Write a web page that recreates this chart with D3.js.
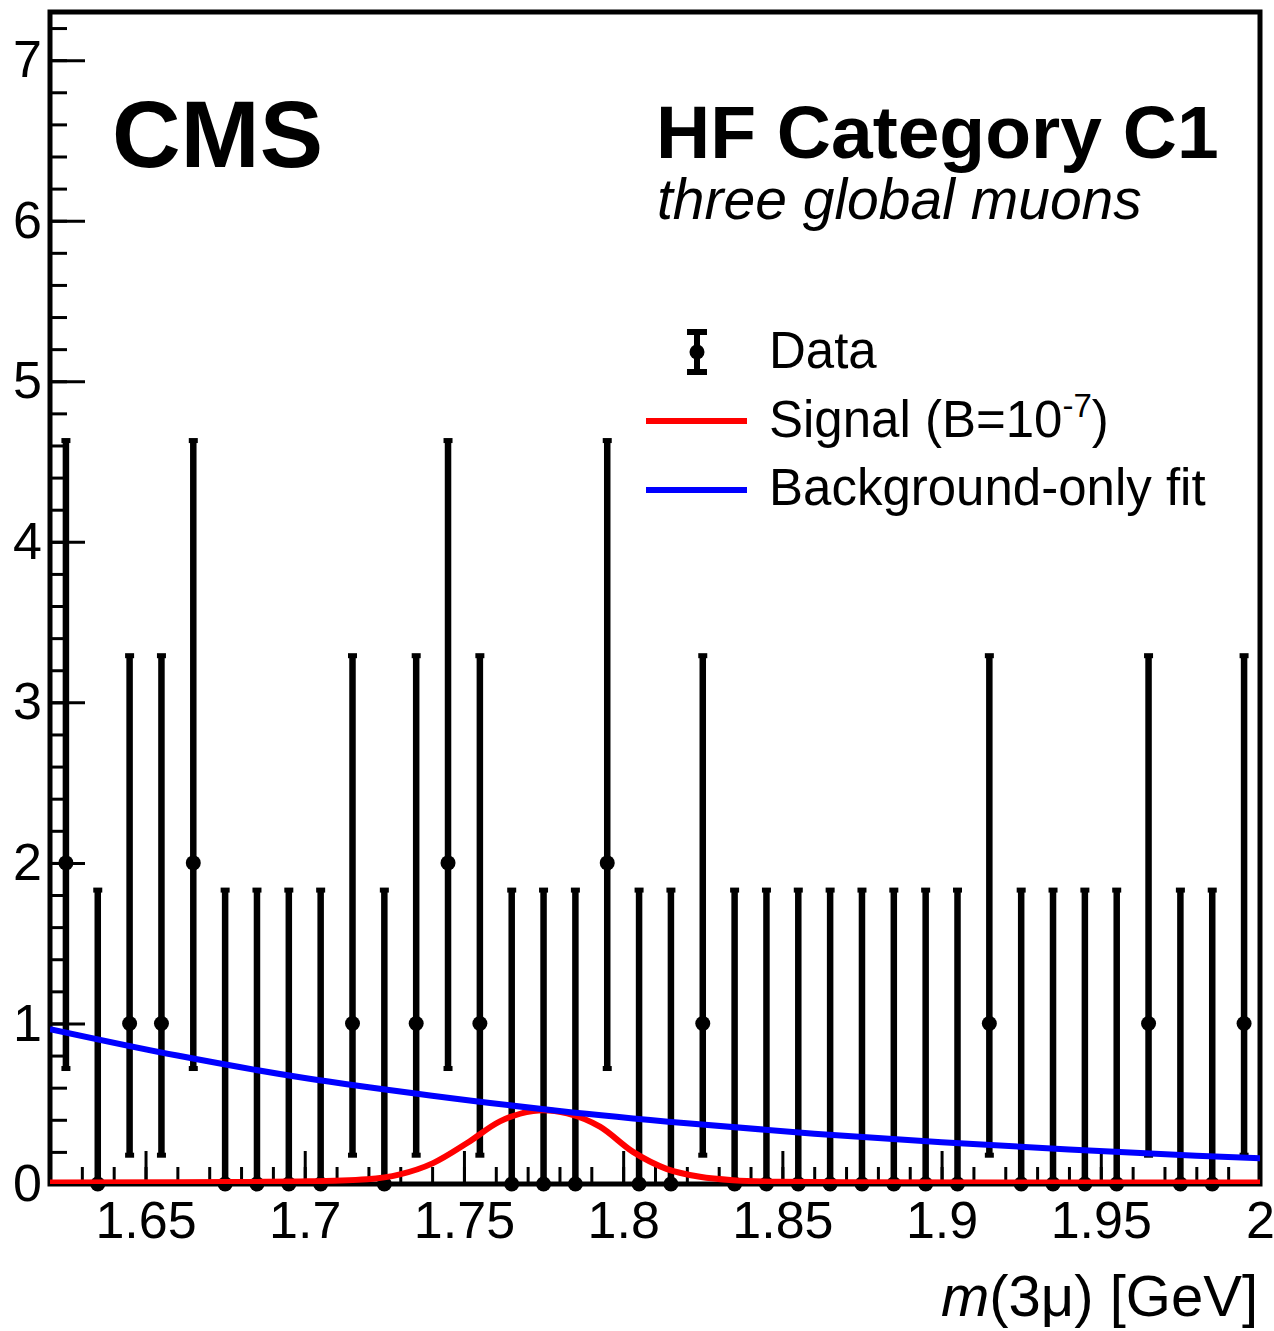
<!DOCTYPE html>
<html>
<head>
<meta charset="utf-8">
<script src="https://cdn.jsdelivr.net/npm/d3@7"></script>
<style>
  body { margin: 0; background: #fff; }
  svg { display: block; font-family: "Liberation Sans", Arial, sans-serif; }
</style>
</head>
<body>
<svg id="chart"></svg>
<script>
// bin centres of m(3mu) histogram [GeV]
let binCenters = [1.625, 1.635, 1.645, 1.655, 1.665, 1.675, 1.685, 1.695, 1.705, 1.715,
  1.725, 1.735, 1.745, 1.755, 1.765, 1.775, 1.785, 1.795, 1.805, 1.815,
  1.825, 1.835, 1.845, 1.855, 1.865, 1.875, 1.885, 1.895, 1.905, 1.915,
  1.925, 1.935, 1.945, 1.955, 1.965, 1.975, 1.985, 1.995]
let counts = [2, 0, 1, 1, 2, 0, 0, 0, 0, 1,
  0, 1, 2, 1, 0, 0, 0, 2, 0, 0,
  1, 0, 0, 0, 0, 0, 0, 0, 0, 1,
  0, 0, 0, 0, 1, 0, 0, 1]
// error bar ends
let errLow = [0.71, 0, 0.17, 0.17, 0.71, 0, 0, 0, 0, 0.17,
  0, 0.17, 0.71, 0.17, 0, 0, 0, 0.71, 0, 0,
  0.17, 0, 0, 0, 0, 0, 0, 0, 0, 0.17,
  0, 0, 0, 0, 0.17, 0, 0, 0.17]
let errHigh = [4.64, 1.84, 3.30, 3.30, 4.64, 1.84, 1.84, 1.84, 1.84, 3.30,
  1.84, 3.30, 4.64, 3.30, 1.84, 1.84, 1.84, 4.64, 1.84, 1.84,
  3.30, 1.84, 1.84, 1.84, 1.84, 1.84, 1.84, 1.84, 1.84, 3.30,
  1.84, 1.84, 1.84, 1.84, 3.30, 1.84, 1.84, 3.30]

// background-only fit
let bkgX = [1.62, 1.66, 1.70, 1.74, 1.78, 1.82, 1.86, 1.90, 1.94, 1.98, 2.00]
let bkgY = [0.965, 0.80, 0.66, 0.55, 0.455, 0.378, 0.313, 0.26, 0.215, 0.176, 0.16]

// signal shape (B=1e-7)
let sigX = [1.62, 1.66, 1.685, 1.6985, 1.7196, 1.7299, 1.7403, 1.751, 1.7613, 1.7717, 1.7748,
  1.7824, 1.7927, 1.8031, 1.8138, 1.8241, 1.8345, 1.8493, 1.87, 1.92, 2.00]
let sigY = [0.01, 0.011, 0.013, 0.016, 0.03, 0.06, 0.13, 0.255, 0.39, 0.455, 0.46,
  0.44, 0.357, 0.20, 0.093, 0.045, 0.024, 0.014, 0.011, 0.01, 0.01]

let legendLabels = ["Data", "Signal (B=10", "Background-only fit"]

let svgWidth = 1274
let svgHeight = 1331
let plotLeft = 50, plotRight = 1260, plotTop = 12, plotBottom = 1184

let svg = d3.select("#chart")
  .attr("width", svgWidth)
  .attr("height", svgHeight)

let x = d3.scaleLinear().domain([1.62, 2.0]).range([plotLeft, plotRight])
let y = d3.scaleLinear().domain([0, 7.3]).range([plotBottom, plotTop])

let clip = svg.append("clipPath").attr("id", "plotclip")
clip.append("rect")
  .attr("x", plotLeft).attr("y", plotTop)
  .attr("width", plotRight - plotLeft).attr("height", plotBottom - plotTop)

// axes: minor ticks first, major with labels
let yMinor = d3.axisLeft(y).tickValues(y.ticks(36)).tickSize(-17).tickFormat("")
let yMajor = d3.axisLeft(y).tickValues(d3.range(0, 8)).tickSize(-35).tickPadding(8)
  .tickFormat(d3.format("d"))
let xMinor = d3.axisBottom(x).tickValues(x.ticks(38)).tickSize(-17).tickFormat("")
let xMajor = d3.axisBottom(x).tickValues(x.ticks(8)).tickSize(-33).tickPadding(17)
  .tickFormat(d => d3.format("")(+d.toFixed(2)))

function styleAxis(g) {
  g.select(".domain").remove()
  g.selectAll(".tick line").attr("stroke", "#000").attr("stroke-width", 3)
  g.selectAll(".tick text").attr("fill", "#000").style("font-size", "52px")
}

svg.append("g").attr("transform", `translate(${plotLeft},0)`).call(yMinor).call(styleAxis)
svg.append("g").attr("transform", `translate(${plotLeft},0)`).call(yMajor).call(styleAxis)
svg.append("g").attr("transform", `translate(0,${plotBottom})`).call(xMinor).call(styleAxis)
svg.append("g").attr("transform", `translate(0,${plotBottom})`).call(xMajor).call(styleAxis)

// frame
svg.append("rect")
  .attr("x", plotLeft).attr("y", plotTop)
  .attr("width", plotRight - plotLeft).attr("height", plotBottom - plotTop)
  .attr("fill", "none")
  .attr("stroke", "#000")
  .attr("stroke-width", 5)

let points = svg.append("g")
let plot = svg.append("g").attr("clip-path", "url(#plotclip)")

let data = binCenters.map((c, i) => ({ x: c, v: counts[i], lo: errLow[i], hi: errHigh[i] }))

// error bars
points.selectAll("line.err")
  .data(data)
  .enter()
  .append("line")
  .attr("class", "err")
  .attr("x1", d => x(d.x)).attr("x2", d => x(d.x))
  .attr("y1", d => y(d.lo)).attr("y2", d => y(d.hi))
  .attr("stroke", "#000").attr("stroke-width", 6.5)

points.selectAll("rect.capHi")
  .data(data)
  .enter()
  .append("rect")
  .attr("class", "capHi")
  .attr("x", d => x(d.x) - 4.5).attr("y", d => y(d.hi) - 1)
  .attr("width", 9).attr("height", 5)

points.selectAll("rect.capLo")
  .data(data.filter(d => d.lo > 0))
  .enter()
  .append("rect")
  .attr("class", "capLo")
  .attr("x", d => x(d.x) - 4.5).attr("y", d => y(d.lo) - 4)
  .attr("width", 9).attr("height", 5)

points.selectAll("circle.pt")
  .data(data)
  .enter()
  .append("circle")
  .attr("class", "pt")
  .attr("cx", d => x(d.x)).attr("cy", d => y(d.v))
  .attr("r", 7.5)
  .attr("fill", "#000")

// curves
let curveLine = d3.line().x(d => x(d[0])).y(d => y(d[1])).curve(d3.curveMonotoneX)

plot.append("path")
  .datum(sigX.map((v, i) => [v, sigY[i]]))
  .attr("d", curveLine)
  .attr("fill", "none")
  .attr("stroke", "#ff0000")
  .attr("stroke-width", 6)

plot.append("path")
  .datum(bkgX.map((v, i) => [v, bkgY[i]]))
  .attr("d", curveLine)
  .attr("fill", "none")
  .attr("stroke", "#0000ff")
  .attr("stroke-width", 6)

// texts
svg.append("text")
  .attr("x", 112).attr("y", 167)
  .style("font-weight", "bold").style("font-size", "95px")
  .text("CMS")

svg.append("text")
  .attr("x", 656).attr("y", 158)
  .style("font-weight", "bold").style("font-size", "75px")
  .text("HF Category C1")

svg.append("text")
  .attr("x", 657).attr("y", 219)
  .style("font-style", "italic").style("font-size", "57px")
  .text("three global muons")

// legend
let legend = svg.append("g")
legend.append("line")
  .attr("x1", 697).attr("x2", 697).attr("y1", 331).attr("y2", 374)
  .attr("stroke", "#000").attr("stroke-width", 6)
legend.append("rect").attr("x", 687).attr("y", 329).attr("width", 20).attr("height", 6)
legend.append("rect").attr("x", 687).attr("y", 369).attr("width", 20).attr("height", 6)
legend.append("circle").attr("cx", 697).attr("cy", 352).attr("r", 7.5)

legend.append("line")
  .attr("x1", 646).attr("x2", 747).attr("y1", 421).attr("y2", 421)
  .attr("stroke", "#ff0000").attr("stroke-width", 6)
legend.append("line")
  .attr("x1", 646).attr("x2", 747).attr("y1", 490).attr("y2", 490)
  .attr("stroke", "#0000ff").attr("stroke-width", 6)

legend.append("text").attr("x", 769).attr("y", 368)
  .style("font-size", "51px").text(legendLabels[0])
let sigText = legend.append("text").attr("x", 769).attr("y", 437)
  .style("font-size", "51px")
sigText.append("tspan").text(legendLabels[1])
sigText.append("tspan").attr("dy", -20).style("font-size", "33px").text("-7")
sigText.append("tspan").attr("dy", 20).text(")")
legend.append("text").attr("x", 769).attr("y", 505)
  .style("font-size", "51px").text(legendLabels[2])

// x axis title
let xt = svg.append("text")
  .attr("x", 1258).attr("y", 1316)
  .attr("text-anchor", "end")
  .style("font-size", "58px")
xt.append("tspan").style("font-style", "italic").text("m")
xt.append("tspan").text("(3μ) [GeV]")
</script>
</body>
</html>
